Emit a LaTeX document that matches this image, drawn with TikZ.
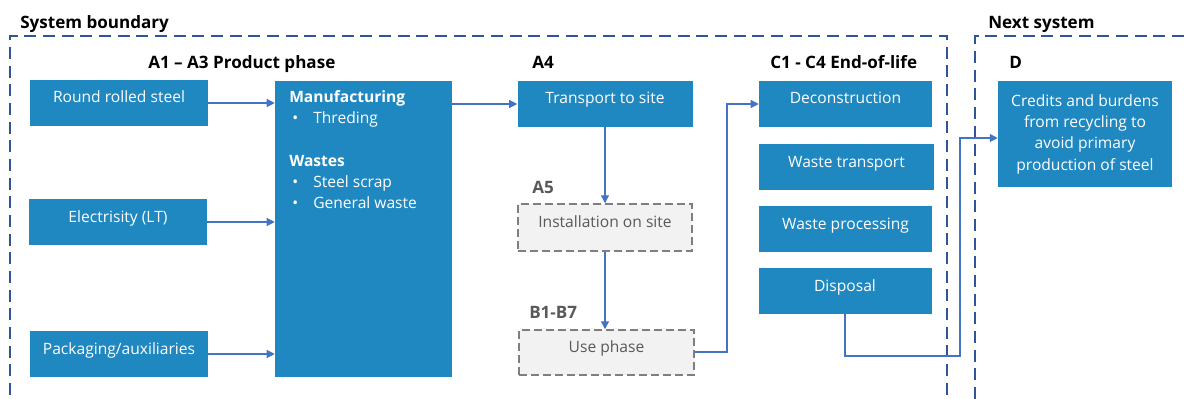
\documentclass[tikz,border=0pt]{standalone}
\usepackage{fontspec}
\setmainfont{Open Sans}
\usetikzlibrary{arrows.meta}
\definecolor{boxblue}{RGB}{32,136,192}
\definecolor{arrowblue}{RGB}{68,114,196}
\definecolor{boundblue}{RGB}{47,85,151}
\definecolor{greyfill}{RGB}{242,242,242}
\definecolor{greyline}{RGB}{127,127,127}
\definecolor{greytext}{RGB}{89,89,89}
\newcommand{\boxfont}{\fontsize{11.7}{16}\selectfont}
\newcommand{\headfont}{\fontsize{12.8}{15}\selectfont\bfseries}
\newcommand{\bulletline}[1]{\hspace*{2.25pt}\makebox[15.75pt][l]{\textbullet}#1}
\tikzset{
  bluebox/.style={fill=boxblue, draw=none, text=white, font=\boxfont,
    align=center, text height=8pt, text depth=8pt, inner sep=0pt},
  greybox/.style={fill=greyfill, draw=greyline, line width=1.1pt, dash pattern=on 6pt off 3pt,
    text=greytext, font=\boxfont, text height=8pt, text depth=8pt, inner sep=0pt},
  arr/.style={draw=arrowblue, line width=0.9pt, -{Triangle[length=6pt,width=6pt]}},
  bound/.style={draw=boundblue, line width=1.1pt, dash pattern=on 9pt off 5pt},
  stage/.style={anchor=base west, inner sep=0pt, font=\headfont},
  greystage/.style={stage, text=greytext},
}
\begin{document}
\begin{tikzpicture}[x=0.75pt, y=-0.75pt]
\useasboundingbox (0,0) rectangle (1187,399);

% system boundaries
\draw[bound] (10,395) -- (10,36) -- (947,36) -- (947,399);
\draw[bound] (975,399) -- (975,36) -- (1187,36);
\node[stage] (tsys) at (20,29) {System boundary};
\node[stage] (tnext) at (988,29) {Next system};

% stage labels
\node[stage] (lA13) at (148,69) {A1 – A3 Product phase};
\node[stage] (lA4) at (532,69) {A4};
\node[greystage] (lA5) at (532,193) {A5};
\node[greystage] (lB) at (529,318) {B1-B7};
\node[stage] (lC) at (770,69) {C1 - C4 End-of-life};
\node[stage] (lD) at (1009,69) {D};

% product phase inputs
\node[bluebox, minimum width=133.5pt, minimum height=34.5pt] (rrs) at (119,103) {Round rolled steel};
\node[bluebox, minimum width=133.5pt, minimum height=34.5pt] (elec) at (118,222) {Electrisity (LT)};
\node[bluebox, minimum width=133.5pt, minimum height=34.5pt] (pack) at (119,354) {Packaging/auxiliaries};

% manufacturing
\node[fill=boxblue, draw=none, minimum width=132.75pt, minimum height=222pt, inner sep=0pt] (mfg) at (363.5,229) {};
\node[anchor=north west, inner sep=0pt, text=white, align=left, font=\boxfont] (mfgtext) at (289,90)
  {\textbf{Manufacturing}\\
   \bulletline{Threding}\\[16pt]
   \textbf{Wastes}\\
   \bulletline{Steel scrap}\\
   \bulletline{General waste}};

% A4, A5, B
\node[bluebox, minimum width=131.25pt, minimum height=34.5pt] (trans) at (605,104) {Transport to site};
\node[greybox, minimum width=130.5pt, minimum height=35.25pt] (inst) at (605,227.5) {Installation on site};
\node[greybox, minimum width=131.25pt, minimum height=33.75pt] (use) at (606.5,352.5) {Use phase};

% end of life
\node[bluebox, minimum width=129.75pt, minimum height=34.5pt] (decon) at (845.5,104) {Deconstruction};
\node[bluebox, minimum width=131.25pt, minimum height=34.5pt] (wtrans) at (846.5,167) {Waste transport};
\node[bluebox, minimum width=129.75pt, minimum height=34.5pt] (wproc) at (845.5,229) {Waste processing};
\node[bluebox, minimum width=129.75pt, minimum height=34.5pt] (disp) at (845,291) {Disposal};

% next system
\node[fill=boxblue, draw=none, text=white, align=center, inner sep=0pt,
      font=\boxfont, minimum width=130.5pt, minimum height=79.5pt] (D) at (1085,134)
  {Credits and burdens\\from recycling to\\avoid primary\\production of steel};

% connectors
\coordinate (ud) at (727,352);
\coordinate (dd) at (960,356);
\draw[arr] (rrs.east) -- (rrs.east -| mfg.west);
\draw[arr] (elec.east) -- (elec.east -| mfg.west);
\draw[arr] (pack.east) -- (pack.east -| mfg.west);
\draw[arr] (mfg.east |- trans.west) -- (trans.west);
\draw[arr] (trans.south) -- (trans.south |- inst.north);
\draw[arr] (inst.south) -- (inst.south |- use.north);
\draw[arr] (use.east |- ud) -- (ud) |- (decon.west);
\draw[arr] (disp.south) |- (dd) |- ([yshift=-3pt]D.west);
\end{tikzpicture}
\end{document}
